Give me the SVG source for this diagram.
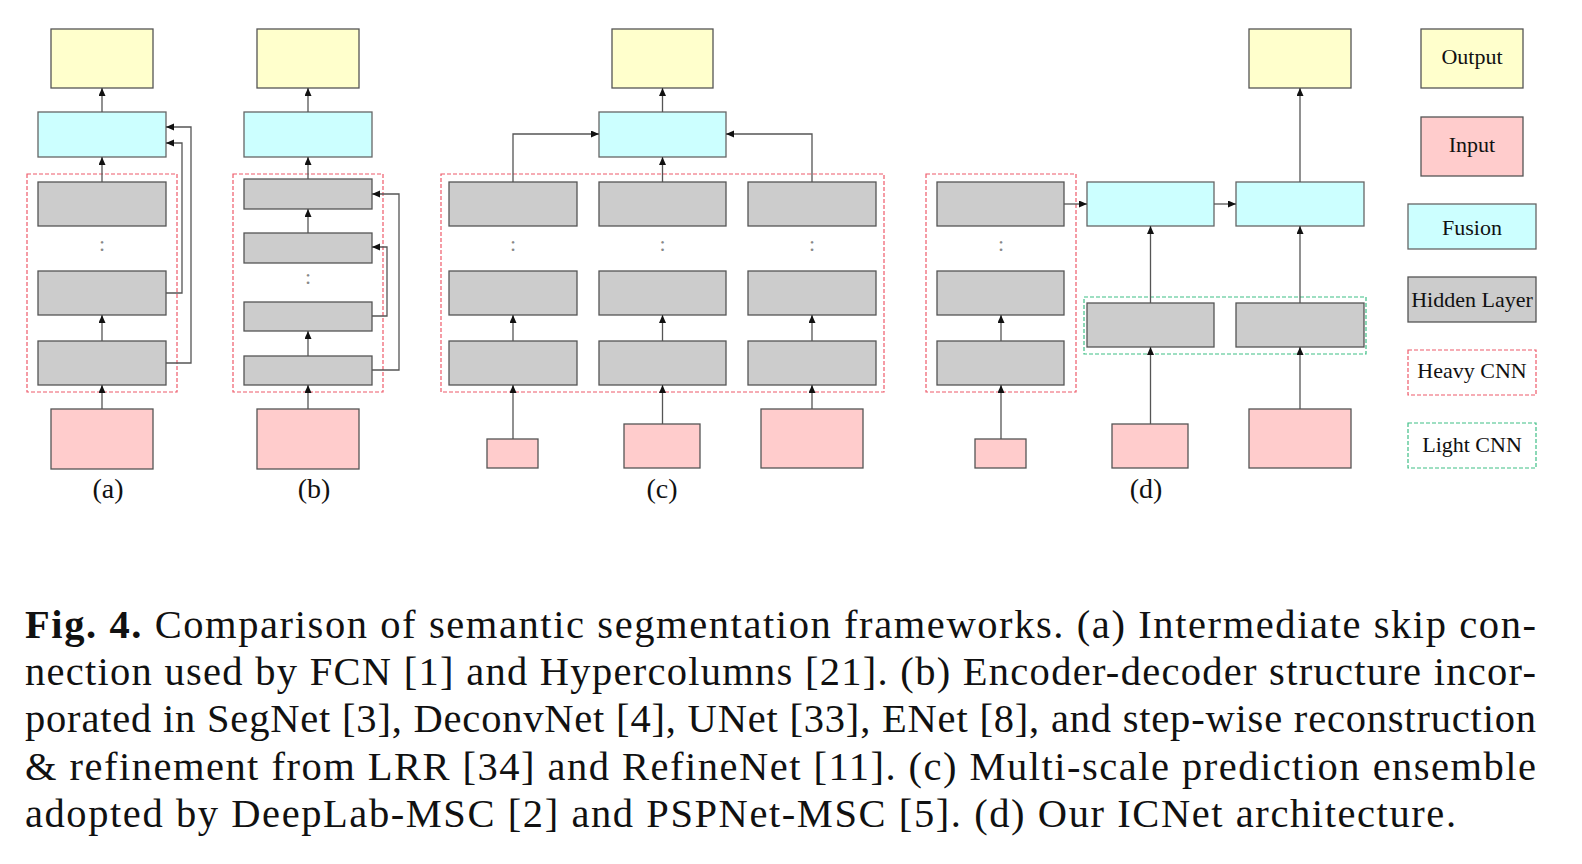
<svg xmlns="http://www.w3.org/2000/svg" width="1582" height="864" viewBox="0 0 1582 864">
<style>
.out{fill:#ffffcc;stroke:#555;stroke-width:1.3}
.inp{fill:#ffcccc;stroke:#555;stroke-width:1.3}
.fus{fill:#ccffff;stroke:#666;stroke-width:1.3}
.hid{fill:#cccccc;stroke:#555;stroke-width:1.3}
.heavy{fill:none;stroke:#ee5a6a;stroke-width:1.2;stroke-dasharray:4 2}
.light{fill:none;stroke:#3fbf86;stroke-width:1.2;stroke-dasharray:4 2}
.con{fill:none;stroke:#555;stroke-width:1.3}
.arr{marker-end:url(#ah)}
.dots{font-family:"Liberation Serif",serif;font-size:22px;fill:#888;text-anchor:middle}
.lbl{font-family:"Liberation Serif",serif;font-size:28px;fill:#111;text-anchor:middle}
.leg{font-family:"Liberation Serif",serif;font-size:22px;fill:#111;text-anchor:middle}
.cap{font-family:"Liberation Serif",serif;font-size:40.5px;fill:#111}
</style>
<defs>
<marker id="ah" markerUnits="userSpaceOnUse" markerWidth="9" markerHeight="8" refX="8" refY="3.5" orient="auto">
<path d="M0,0 L8,3.5 L0,7 z" fill="#111"/>
</marker>
</defs>
<rect width="1582" height="864" fill="#fff"/>

<g id="panel-a">
<rect class="heavy" x="27" y="174" width="150" height="218"/>
<rect class="out" x="51" y="29" width="102" height="59"/>
<rect class="fus" x="38" y="112" width="128" height="45"/>
<rect class="hid" x="38" y="182" width="128" height="44"/>
<text class="dots" x="102" y="251">:</text>
<rect class="hid" x="38" y="271" width="128" height="44"/>
<rect class="hid" x="38" y="341" width="128" height="44"/>
<rect class="inp" x="51" y="409" width="102" height="60"/>
<text class="lbl" x="108" y="498">(a)</text>
</g>

<g id="panel-b">
<rect class="heavy" x="233" y="174" width="150" height="218"/>
<rect class="out" x="257" y="29" width="102" height="59"/>
<rect class="fus" x="244" y="112" width="128" height="45"/>
<rect class="hid" x="244" y="179" width="128" height="30"/>
<rect class="hid" x="244" y="233" width="128" height="30"/>
<text class="dots" x="308" y="284">:</text>
<rect class="hid" x="244" y="302" width="128" height="29"/>
<rect class="hid" x="244" y="356" width="128" height="29"/>
<rect class="inp" x="257" y="409" width="102" height="60"/>
<text class="lbl" x="314" y="498">(b)</text>
</g>

<g id="panel-c">
<rect class="heavy" x="441" y="174" width="443" height="218"/>
<rect class="out" x="612" y="29" width="101" height="59"/>
<rect class="fus" x="599" y="112" width="127" height="45"/>
<rect class="hid" x="449" y="182" width="128" height="44"/>
<rect class="hid" x="599" y="182" width="127" height="44"/>
<rect class="hid" x="748" y="182" width="128" height="44"/>
<text class="dots" x="513" y="251">:</text>
<text class="dots" x="662.5" y="251">:</text>
<text class="dots" x="812" y="251">:</text>
<rect class="hid" x="449" y="271" width="128" height="44"/>
<rect class="hid" x="599" y="271" width="127" height="44"/>
<rect class="hid" x="748" y="271" width="128" height="44"/>
<rect class="hid" x="449" y="341" width="128" height="44"/>
<rect class="hid" x="599" y="341" width="127" height="44"/>
<rect class="hid" x="748" y="341" width="128" height="44"/>
<rect class="inp" x="487" y="439" width="51" height="29"/>
<rect class="inp" x="624" y="424" width="76" height="44"/>
<rect class="inp" x="761" y="409" width="102" height="59"/>
<text class="lbl" x="662" y="498">(c)</text>
</g>

<g id="panel-d">
<rect class="heavy" x="926" y="174" width="150" height="218"/>
<rect class="light" x="1084" y="297" width="282" height="57"/>
<rect class="out" x="1249" y="29" width="102" height="59"/>
<rect class="hid" x="937" y="182" width="127" height="44"/>
<text class="dots" x="1001" y="251">:</text>
<rect class="hid" x="937" y="271" width="127" height="44"/>
<rect class="hid" x="937" y="341" width="127" height="44"/>
<rect class="fus" x="1087" y="182" width="127" height="44"/>
<rect class="fus" x="1236" y="182" width="128" height="44"/>
<rect class="hid" x="1087" y="303" width="127" height="44"/>
<rect class="hid" x="1236" y="303" width="128" height="44"/>
<rect class="inp" x="975" y="439" width="51" height="29"/>
<rect class="inp" x="1112" y="424" width="76" height="44"/>
<rect class="inp" x="1249" y="409" width="102" height="59"/>
<text class="lbl" x="1146" y="498">(d)</text>
</g>

<g id="legend">
<g id="legend-output"><rect class="out" x="1421" y="29" width="102" height="59"/><text class="leg" x="1472" y="64">Output</text></g>
<g id="legend-input"><rect class="inp" x="1421" y="117" width="102" height="59"/><text class="leg" x="1472" y="152">Input</text></g>
<g id="legend-fusion"><rect class="fus" x="1408" y="204" width="128" height="45"/><text class="leg" x="1472" y="235">Fusion</text></g>
<g id="legend-hidden"><rect class="hid" x="1408" y="277" width="128" height="45"/><text class="leg" x="1472" y="307">Hidden Layer</text></g>
<g id="legend-heavy"><rect class="heavy" x="1408" y="350" width="128" height="45"/><text class="leg" x="1472" y="378">Heavy CNN</text></g>
<g id="legend-light"><rect class="light" x="1408" y="423" width="128" height="45"/><text class="leg" x="1472" y="452">Light CNN</text></g>
</g>

<g id="connectors">
<path class="con arr" d="M102,409 V385"/>
<path class="con arr" d="M102,341 V315"/>
<path class="con arr" d="M102,182 V157"/>
<path class="con arr" d="M102,112 V88"/>
<path class="con arr" d="M166,293 H182 V143 H166"/>
<path class="con arr" d="M166,363 H191 V127 H166"/>

<path class="con arr" d="M308,409 V385"/>
<path class="con arr" d="M308,356 V331"/>
<path class="con arr" d="M308,233 V209"/>
<path class="con arr" d="M308,179 V157"/>
<path class="con arr" d="M308,112 V88"/>
<path class="con arr" d="M372,316 H387 V247 H372"/>
<path class="con arr" d="M372,370 H399 V194 H372"/>

<path class="con arr" d="M513,439 V385"/>
<path class="con arr" d="M662.5,424 V385"/>
<path class="con arr" d="M812,409 V385"/>
<path class="con arr" d="M513,341 V315"/>
<path class="con arr" d="M662.5,341 V315"/>
<path class="con arr" d="M812,341 V315"/>
<path class="con arr" d="M513,182 V134 H599"/>
<path class="con arr" d="M812,182 V134 H726"/>
<path class="con arr" d="M662.5,182 V157"/>
<path class="con arr" d="M662.5,112 V88"/>

<path class="con arr" d="M1001,439 V385"/>
<path class="con arr" d="M1001,341 V315"/>
<path class="con arr" d="M1064,204 H1087"/>
<path class="con arr" d="M1214,204 H1236"/>
<path class="con arr" d="M1150.5,303 V226"/>
<path class="con arr" d="M1300,303 V226"/>
<path class="con arr" d="M1150.5,424 V347"/>
<path class="con arr" d="M1300,409 V347"/>
<path class="con arr" d="M1300,182 V88"/>
</g>

<g id="caption">
<text class="cap" x="25" y="638" textLength="1511" lengthAdjust="spacing"><tspan font-weight="bold">Fig. 4.</tspan> Comparison of semantic segmentation frameworks. (a) Intermediate skip con-</text>
<text class="cap" x="25" y="685" textLength="1511" lengthAdjust="spacing">nection used by FCN [1] and Hypercolumns [21]. (b) Encoder-decoder structure incor-</text>
<text class="cap" x="25" y="732" textLength="1511" lengthAdjust="spacing">porated in SegNet [3], DeconvNet [4], UNet [33], ENet [8], and step-wise reconstruction</text>
<text class="cap" x="25" y="780" textLength="1511" lengthAdjust="spacing">&amp; refinement from LRR [34] and RefineNet [11]. (c) Multi-scale prediction ensemble</text>
<text class="cap" x="25" y="827" textLength="1431" lengthAdjust="spacing">adopted by DeepLab-MSC [2] and PSPNet-MSC [5]. (d) Our ICNet architecture.</text>
</g>
</svg>
